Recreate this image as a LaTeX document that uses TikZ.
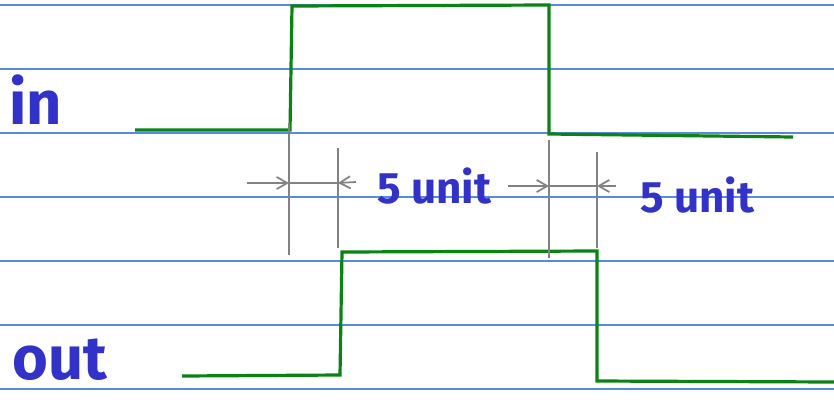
\documentclass[tikz,border=0pt]{standalone}
\usepackage{fontspec}
\setmainfont{Fira Sans}
\usetikzlibrary{arrows.meta}
\definecolor{ruleblue}{RGB}{85,140,225}
\definecolor{sigreen}{RGB}{10,130,20}
\definecolor{inkblue}{RGB}{50,50,200}
\definecolor{dimgrey}{RGB}{130,130,130}

\begin{document}
\begin{tikzpicture}[x=0.75pt, y=-0.75pt,
  ruled/.style={ruleblue, line width=0.9pt},
  wave/.style={sigreen, line width=2.4pt},
  guide/.style={dimgrey, line width=1.3pt},
  dimarr/.style={dimgrey, line width=1.3pt, -{Straight Barb[length=2.8mm,width=3.2mm]}},
  sig/.style={inkblue, font=\fontsize{46}{50}\selectfont\bfseries, inner sep=0pt},
  dimlab/.style={inkblue, font=\fontsize{33}{36}\selectfont\bfseries, inner sep=0pt}]
\useasboundingbox (0,0) rectangle (834,404);
% ruled paper
\foreach \y in {5,69,133,197,261,325,389}
  \draw[ruled] (0,\y) -- (834,\y);
% signal edges
\coordinate (inrise) at (290,130);
\coordinate (infall) at (549,134);
\coordinate (outrise) at (340,375);
\coordinate (outfall) at (597,381);
% waveforms
\draw[wave] (135,130) -- (inrise) -- (292,6) -- (549,5) -- (infall) -- (793,137);
\draw[wave] (182,376) -- (outrise) -- (342,252) -- (597,251) -- (outfall) -- (834,382);
% guide lines
\draw[guide] (289,123) -- (289,255);
\draw[guide] (338,148) -- (338,248);
\draw[guide] (549,140) -- (549,258);
\draw[guide] (597,152) -- (597,248);
% delay arrows
\coordinate (d1a) at (289,183);
\coordinate (d1b) at (338,183);
\coordinate (d2a) at (549,186);
\coordinate (d2b) at (597,186);
\draw[dimarr] (247,183) -- (d1a);
\draw[guide] (d1a) -- (d1b);
\draw[dimarr] (356,182) -- (d1b);
\draw[dimarr] (508,186) -- (d2a);
\draw[guide] (d2a) -- (d2b);
\draw[dimarr] (616,186) -- (d2b);
% labels
\node[sig] (inlab) at (36,100) {in};
\node[sig] (outlab) at (60,360) {out};
\node[dimlab] (delay1) at (434,186) {5 unit};
\node[dimlab] (delay2) at (697,195) {5 unit};
\end{tikzpicture}
\end{document}
